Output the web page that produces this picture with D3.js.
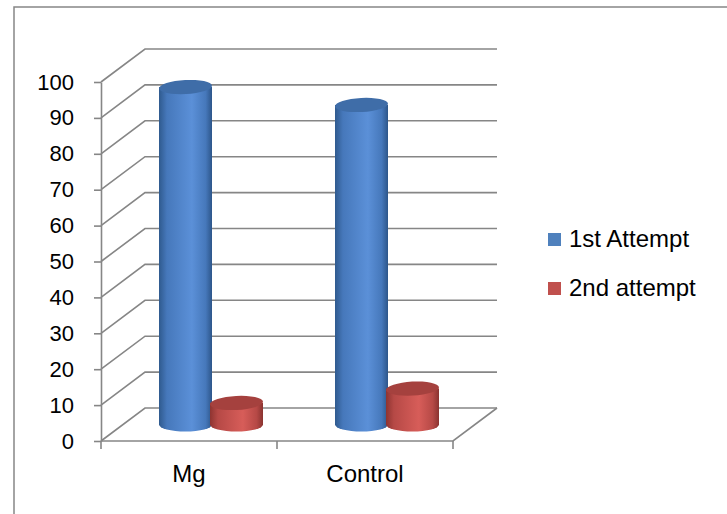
<!DOCTYPE html>
<html>
<head>
<meta charset="utf-8">
<script src="https://cdn.jsdelivr.net/npm/d3@7/dist/d3.min.js"></script>
<style>
  html, body { margin: 0; padding: 0; background: #fff; }
  svg { display: block; }
  text { font-family: "Liberation Sans", Arial, sans-serif; fill: #000; }
</style>
</head>
<body>
<svg id="chart" width="727" height="514"></svg>
<script>
// Data
const categories = ["Mg", "Control"];
const seriesNames = ["1st Attempt", "2nd attempt"];
const firstAttempt = [94, 89];
const secondAttempt = [6, 10];
const yTicks = [0, 10, 20, 30, 40, 50, 60, 70, 80, 90, 100];
const seriesColors = ["#4f81bd", "#c0504d"];

const svg = d3.select("#chart");
const W = 727, H = 514;

// Chart area frame
svg.append("rect")
  .attr("x", 14).attr("y", 7)
  .attr("width", W).attr("height", H)
  .attr("fill", "#fff")
  .attr("stroke", "#868686").attr("stroke-width", 1.5);

// Scales (front plane of the 3D box)
const x = d3.scaleBand().domain(categories).range([101, 453]).padding(0);
const xs = d3.scaleBand().domain(seriesNames).range([-51, 51]).padding(0);
const y = d3.scaleLinear().domain([0, 100]).range([441, 82]);

// Oblique depth offset for the back wall
const depthX = 44, depthY = -33;
const midX = depthX / 2, midY = depthY / 2;
const gridColor = "#868686";

// Gradients for cylinder shading
const defs = svg.append("defs");
function cylGradient(id, dark, mid, light, darkEdge) {
  const g = defs.append("linearGradient").attr("id", id)
    .attr("x1", "0%").attr("x2", "100%").attr("y1", "0%").attr("y2", "0%");
  g.append("stop").attr("offset", "0%").attr("stop-color", dark);
  g.append("stop").attr("offset", "15%").attr("stop-color", mid);
  g.append("stop").attr("offset", "62%").attr("stop-color", light);
  g.append("stop").attr("offset", "88%").attr("stop-color", mid);
  g.append("stop").attr("offset", "100%").attr("stop-color", darkEdge);
}
cylGradient("grad0", "#2f5a8e", "#4678bb", "#5b90d8", "#2d568a");
cylGradient("grad1", "#8e3431", "#b64946", "#d75d59", "#8a3330");
const topColors = ["#3f6da8", "#a5413e"];

// Gridlines: front diagonal to back wall, then across the back wall
const grid = svg.append("g");
yTicks.forEach(t => {
  const y0 = y(t);
  grid.append("path")
    .attr("d", d3.line()([[x.range()[0], y0], [x.range()[0] + depthX, y0 + depthY], [497, y0 + depthY]]))
    .attr("fill", "none").attr("stroke", gridColor).attr("stroke-width", 1.6);
});

// Floor edges
const floorY = y(0);
grid.append("path")
  .attr("d", d3.line()([[x.range()[0], floorY], [x.range()[1], floorY],
                        [x.range()[1] + depthX, floorY + depthY]]))
  .attr("fill", "none").attr("stroke", gridColor).attr("stroke-width", 1.6);

// Category boundary ticks
const bounds = [x.range()[0]].concat(categories.map(c => x(c) + x.bandwidth()));
bounds.forEach(b => {
  grid.append("line")
    .attr("x1", b).attr("x2", b).attr("y1", floorY).attr("y2", floorY + 8)
    .attr("stroke", gridColor).attr("stroke-width", 1.6);
});

// Value axis
const yAxis = d3.axisLeft(y).tickValues(yTicks).tickSize(7).tickSizeOuter(0).tickPadding(20);
const ya = svg.append("g").attr("transform", `translate(${x.range()[0]},0)`).call(yAxis);
ya.select(".domain").attr("stroke", gridColor).attr("stroke-width", 1.6);
ya.selectAll(".tick line").attr("stroke", gridColor).attr("stroke-width", 1.6);
ya.selectAll(".tick text")
  .attr("font-family", "Liberation Sans, Arial, sans-serif")
  .attr("font-size", 22).attr("fill", "#000");

// Category labels
const xAxis = d3.axisBottom(x).tickSize(0).tickPadding(24);
const xa = svg.append("g").attr("transform", `translate(0,${floorY})`).call(xAxis);
xa.select(".domain").remove();
xa.selectAll(".tick text")
  .attr("font-family", "Liberation Sans, Arial, sans-serif")
  .attr("font-size", 24).attr("fill", "#000");

// Cylinders
const rx = 26.5, ry = 7;
const values = [firstAttempt, secondAttempt];
const bars = svg.append("g");
categories.forEach((c, ci) => {
  seriesNames.forEach((s, si) => {
    const v = values[si][ci];
    const cx = x(c) + x.bandwidth() / 2 + xs(s) + xs.bandwidth() / 2 + midX;
    const yb = y(0) + midY;
    const yt = y(v) + midY;
    const g = bars.append("g");
    g.append("path")
      .attr("d", `M${cx - rx},${yt} L${cx - rx},${yb} A${rx},${ry} 0 0 0 ${cx + rx},${yb} L${cx + rx},${yt} Z`)
      .attr("fill", `url(#grad${si})`);
    g.append("ellipse")
      .attr("cx", cx).attr("cy", yt).attr("rx", rx).attr("ry", ry)
      .attr("transform", `rotate(-3,${cx},${yt})`)
      .attr("fill", topColors[si]);
  });
});

// Legend
const legend = svg.append("g");
seriesNames.forEach((s, i) => {
  const ly = 239 + i * 49;
  legend.append("rect")
    .attr("x", 548).attr("y", ly - 6).attr("width", 13).attr("height", 13)
    .attr("fill", seriesColors[i]);
  legend.append("text")
    .attr("x", 569).attr("y", ly).attr("dy", "0.35em")
    .attr("font-size", 24)
    .text(s);
});
</script>
</body>
</html>
